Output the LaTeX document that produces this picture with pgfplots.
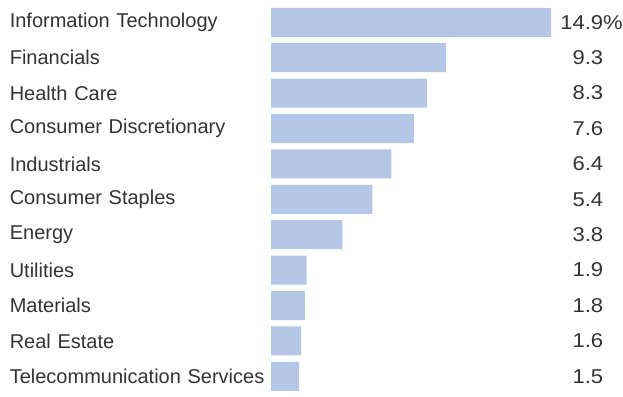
\documentclass[border=0pt]{standalone}
\usepackage{pgfplots}
\pgfplotsset{compat=1.18}
\usepackage{pgfplotstable}
\usepackage{fontspec}
\setmainfont{Liberation Sans}
\newfontfamily\numfont{Liberation Sans}[FakeStretch=1.1]
\definecolor{barblue}{HTML}{B4C7E7}
\definecolor{txt}{HTML}{333333}
\pgfplotstableread[col sep=comma]{
idx,value
0,14.9
1,9.3
2,8.3
3,7.6
4,6.4
5,5.4
6,3.8
7,1.9
8,1.8
9,1.6
10,1.5
}\data
\begin{document}
\begin{tikzpicture}[x=1pt,y=1pt]
\path[use as bounding box] (0,0) rectangle (623,396);
\pgfplotsset{common/.style={
  at={(271pt,2pt)}, anchor=south west, scale only axis,
  width=280pt, height=389.4pt, xmin=0, xmax=14.9,
  ymin=-0.5, ymax=10.5, y dir=reverse,
  axis line style={draw=none}, xtick=\empty, ytick={0,...,10},
  major tick length=0pt, tick style={draw=none},
  yticklabel style={inner sep=0pt, font=\fontsize{20}{23}\selectfont, text=txt},
}}
\begin{axis}[common, xbar, bar width=29pt,
  yticklabels={Information Technology,Financials,Health Care,Consumer Discretionary,Industrials,Consumer Staples,Energy,Utilities,Materials,Real Estate,Telecommunication Services},
  yticklabel style={anchor=east, text width=261pt, align=left}]
\addplot[fill=barblue, draw=none] table[x=value,y=idx]{\data};
\end{axis}
\begin{axis}[common, yticklabel pos=right,
  yticklabels={14.9\rlap{\%},9.3,8.3,7.6,6.4,5.4,3.8,1.9,1.8,1.6,1.5},
  yticklabel style={anchor=west, text width=52pt, align=right, font=\numfont\fontsize{20}{23}\selectfont}]
\end{axis}
\end{tikzpicture}
\end{document}
